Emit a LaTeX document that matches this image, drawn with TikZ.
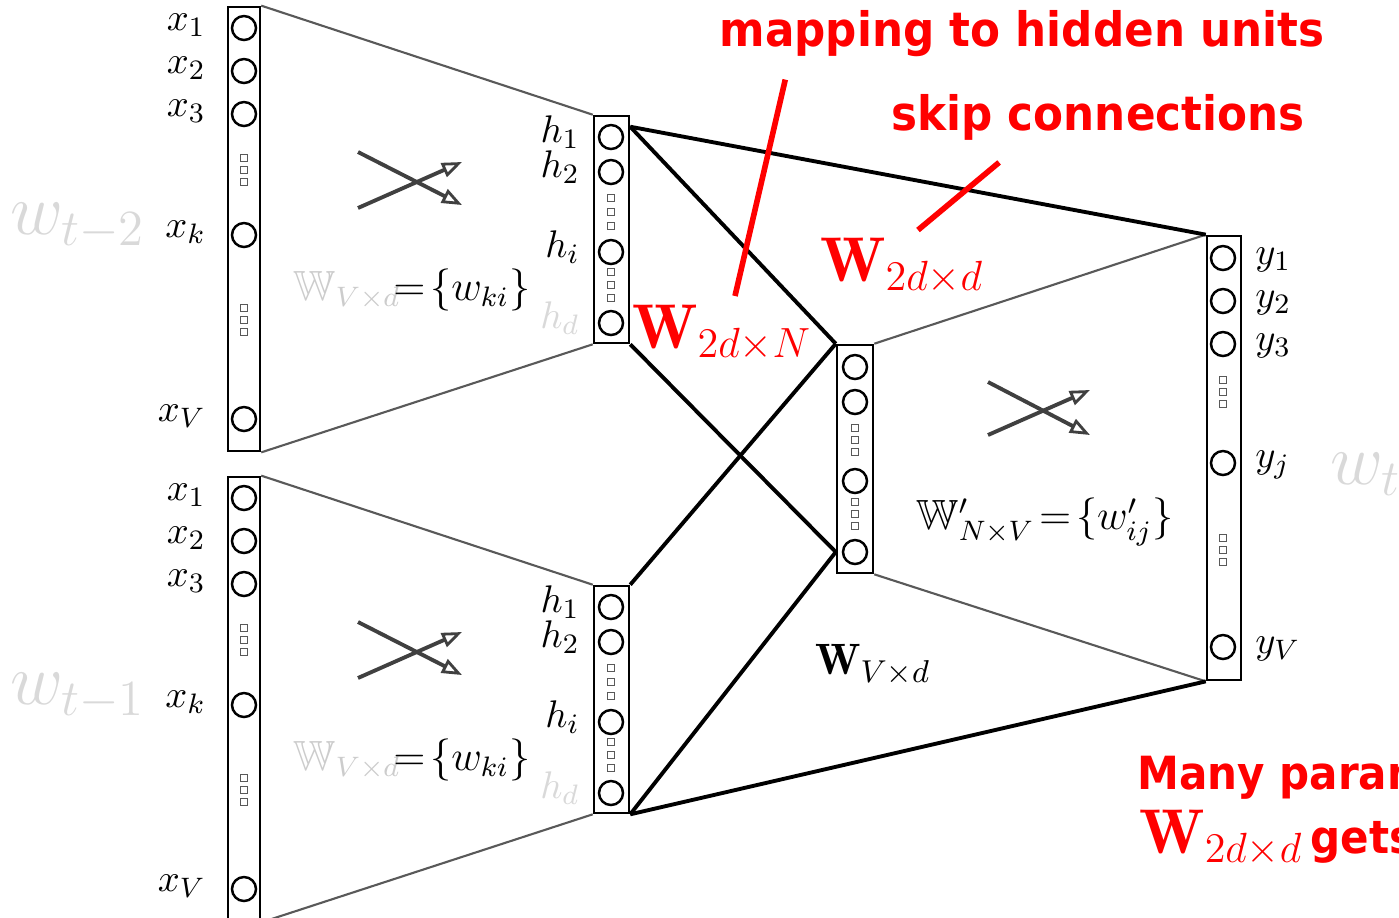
\documentclass[tikz,border=0pt]{standalone}
\usepackage{fontspec}
\usepackage{amsmath,amssymb}
\usetikzlibrary{arrows.meta}
\newfontfamily\notefont[FakeStretch=0.92]{DejaVu Sans}
\definecolor{anno}{RGB}{255,0,0}

\begin{document}
\begin{tikzpicture}[x=0.01cm, y=-0.01cm,
  bar/.style={draw, line width=0.7pt, inner sep=0pt},
  unit/.style={circle, draw, line width=0.7pt, minimum size=0.24cm, inner sep=0pt},
  dotsq/.style={draw, gray!70!black, line width=0.4pt, minimum size=0.07cm, inner sep=0pt},
  fan/.style={gray!70!black, line width=0.6pt},
  link/.style={black, line width=1.1pt},
  cross/.style={gray!50!black, line width=1.1pt, -{Triangle[open, length=0.2cm, width=0.15cm, line width=0.8pt]}},
  lab/.style={font=\fontsize{11}{13}\selectfont},
  faint/.style={text=gray!30},
  note/.style={text=anno, font=\notefont\bfseries\fontsize{13.5}{16}\selectfont},
  bigw/.style={text=anno, font=\fontsize{18}{21}\selectfont},
  ptr/.style={anno, line width=1.6pt}]

\useasboundingbox (0,0) rectangle (1399,917);
\clip (0,0) rectangle (1399,917);

% Blocchi di ingresso: w_{t-2} sopra, w_{t-1} sotto
\foreach \b/\o/\t in {a/0/t-2, b/470/t-1} {
  \node[bar, minimum width=0.32cm, minimum height=4.44cm] (x\b) at (244,229+\o) {};
  \node[bar, minimum width=0.35cm, minimum height=2.27cm] (h\b) at (611.5,229.5+\o) {};
  \foreach \y/\n in {28/1,71/2,114/3,235/k,419/V} {
    \node[unit] (x\b\n) at (244,\y+\o) {};
    \node[lab, anchor=east] (lx\b\n) at (218,\y-3+\o) {$x_{\n}$};
  }
  \foreach \y in {158,170,182,308,320,332}
    \node[dotsq] (sx\b\y) at (244,\y+\o) {};
  \foreach \y/\n in {137/1,172/2,252/i} {
    \node[unit] (h\b\n) at (611,\y+\o) {};
    \node[lab, anchor=east] (lh\b\n) at (592,\y-5+\o) {$h_{\n}$};
  }
  \node[unit] (h\b d) at (611,323+\o) {};
  \node[lab, faint, anchor=east] (lh\b d) at (592,318+\o) {$h_d$};
  \foreach \y in {198,212,226,272,285,298}
    \node[dotsq] (sh\b\y) at (611,\y+\o) {};
  % ventaglio x -> h
  \draw[fan] (x\b.north east) -- (h\b.north west);
  \draw[fan] (x\b.south east) -- (h\b.south west);
  \draw[cross] (358,152+\o) -- (462,205+\o);
  \draw[cross] (358,208+\o) -- (462,162+\o);
  \node[font=\fontsize{12}{14}\selectfont] (wx\b) at (412,290+\o)
    {{\color{gray!40}$\mathbb{W}_{V\times d}$}$\!=\!\{w_{ki}\}$};
  \node[faint, font=\fontsize{20}{24}\selectfont] (w\b) at (78,226+\o) {$w_{\t}$};
}

% Strato centrale
\node[bar, minimum width=0.36cm, minimum height=2.28cm] (mid) at (855,459) {};
\foreach \y/\n in {367/1,402/2,481/3,552/4}
  \node[unit] (m\n) at (855,\y) {};
\foreach \y in {428,440,452,502,514,526}
  \node[dotsq] (sm\y) at (855,\y) {};

% Uscita
\node[bar, minimum width=0.34cm, minimum height=4.44cm] (out) at (1224,458) {};
\foreach \y/\n in {258/1,301/2,344/3,463/j,647/V} {
  \node[unit] (y\n) at (1223,\y) {};
  \node[lab, anchor=west] (ly\n) at (1243,\y+2) {$y_{\n}$};
}
\foreach \y in {380,392,404,538,550,562}
  \node[dotsq] (sy\y) at (1223,\y) {};
\node[faint, font=\fontsize{20}{24}\selectfont] (wt) at (1366,474) {$w_t$};

% ventaglio centrale -> uscita
\draw[fan] (mid.north east) -- (out.north west);
\draw[fan] (mid.south east) -- (out.south west);
\draw[cross] (988,382) -- (1090,435);
\draw[cross] (988,435) -- (1090,390);
\node[font=\fontsize{12}{14}\selectfont] (wout) at (1045,522)
  {$\mathbb{W}'_{N\times V}\!=\!\{w'_{ij}\}$};

% Connessioni nere
\coordinate (hat) at ([yshift=-0.12cm]ha.north east);
\coordinate (mtop) at (mid.north west);
\coordinate (mbot) at (m4 -| mid.west);
\draw[link] (hat) -- (mtop);
\draw[link] (hb.north east) -- (mtop);
\draw[link] (ha.south east) -- (mbot);
\draw[link] (hb.south east) -- (mbot);
\draw[link] (hat) -- (out.north west);
\draw[link] (hb.south east) -- (out.south west);
\node[font=\fontsize{12.5}{15}\selectfont] (wvd) at (873,665) {$\mathbf{W}_{V\times d}$};

% Note in rosso
\node[bigw] (w2n) at (722,333) {$\mathbf{W}_{2d\times N}$};
\node[bigw] (w2d) at (902,266) {$\mathbf{W}_{2d\times d}$};
\node[note] (map) at (1022,34) {mapping to hidden units};
\node[note] (skip) at (1098,117) {skip connections};
\coordinate (mapt) at (735,296);
\coordinate (skipt) at (918,230);
\draw[ptr] ([xshift=0.78cm,yshift=-0.1cm]map.south west) -- (mapt);
\draw[ptr] ([xshift=1.2cm,yshift=-0.1cm]skip.south west) -- (skipt);
\node[note, anchor=west, font=\notefont\bfseries\fontsize{13}{16}\selectfont] (many) at (1125,778) {Many param};
\node[bigw, anchor=west] (gets) at (1127,838)
  {$\mathbf{W}_{2d\times d}$\hspace{0.12em}{\notefont\bfseries\fontsize{13}{16}\selectfont gets}};
\end{tikzpicture}
\end{document}
